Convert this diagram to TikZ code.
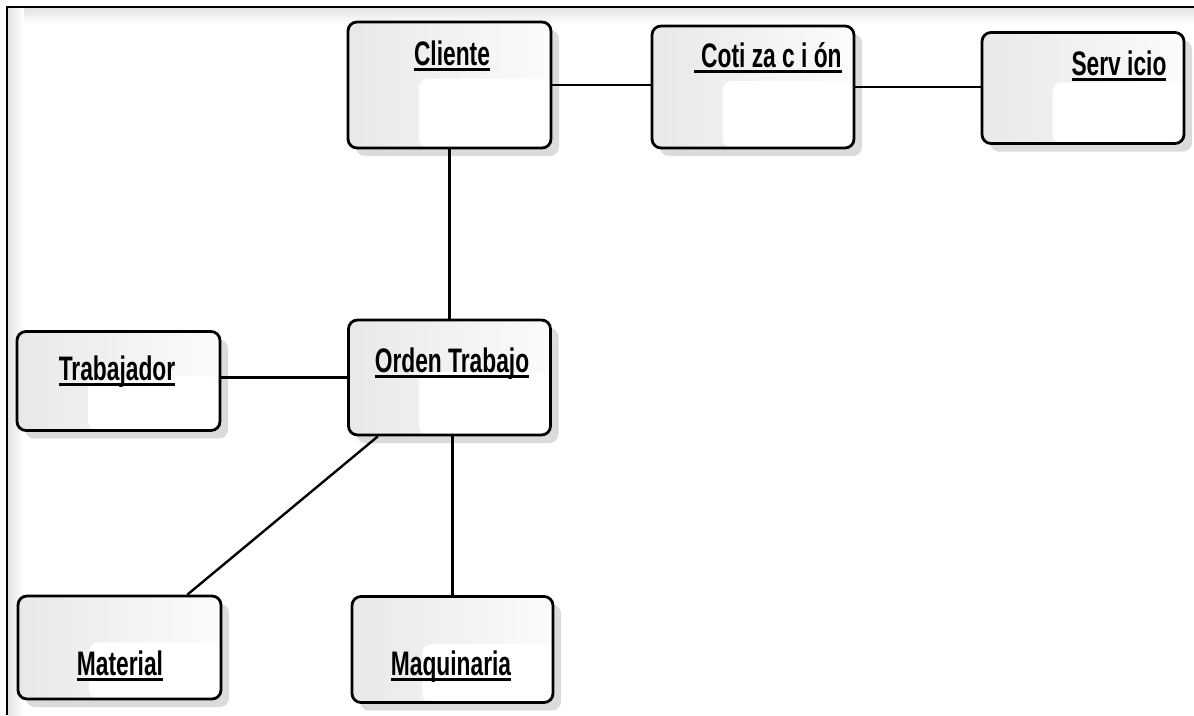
\documentclass[tikz,border=0pt]{standalone}
\usepackage{fontspec}
\setmainfont{Liberation Sans}
\usepackage{graphicx}
\usetikzlibrary{shadows,calc}
\newcommand\ulbox[1]{\setbox0=\hbox{#1}\leavevmode\rlap{\rule[-6pt]{\wd0}{3.5pt}}\box0}
\newcommand\lbl[1]{\scalebox{0.67}[1]{\fontsize{34}{34}\selectfont\bfseries\ulbox{#1}}}
\tikzset{
  ebox/.style={draw=black, line width=2.8pt, rounded corners=9pt,
    left color=gray!18, right color=gray!3,
    drop shadow={shadow xshift=8pt, shadow yshift=-8pt, fill=gray!50, opacity=0.55},
    path picture={
      \path (path picture bounding box.south west) coordinate (pa)
            (path picture bounding box.north east) coordinate (pb);
      \fill[white] ($(pa)!0.35!(pa -| pb)$) rectangle ($(pb)!0.45!(pb |- pa)$);
    }},
  lab/.style={anchor=base, inner sep=0pt},
  conn/.style={draw=black, line width=2.4pt}
}
\begin{document}
\begin{tikzpicture}[x=1pt,y=-1pt]
\useasboundingbox (0,0) rectangle (1194,715);
\fill[white] (0,0) rectangle (1194,715);
% outer frame with soft inner shadow
\shade[top color=gray!22, bottom color=white] (8,8) rectangle (1194,24);
\shade[left color=gray!22, right color=white] (8,8) rectangle (24,715);
\draw[line width=1.8pt] (7,715) -- (7,7) -- (1194,7);

% boxes
\node[ebox, minimum width=203pt, minimum height=126pt] (cli) at (449.5,85) {};
\node[ebox, minimum width=202pt, minimum height=122pt] (cot) at (753,87) {};
\node[ebox, minimum width=202pt, minimum height=111pt] (ser) at (1083,88) {};
\node[ebox, minimum width=203pt, minimum height=99pt] (tra) at (118.5,381) {};
\node[ebox, minimum width=202pt, minimum height=115pt] (ord) at (449.5,377.5) {};
\node[ebox, minimum width=203pt, minimum height=103pt] (mat) at (119.5,647.5) {};
\node[ebox, minimum width=201pt, minimum height=106pt] (maq) at (452.5,649.5) {};

% labels
\node[lab] (clil) at (452,65) {\lbl{Cliente}};
\node[lab] (cotl) at (768,67) {\lbl{\hspace*{0.3em}Coti za c i ón}};
\node[lab] (serl) at (1119,75) {\lbl{Serv icio}};
\node[lab] (tral) at (117,380) {\lbl{Trabajador}};
\node[lab] (ordl) at (452,372) {\lbl{Orden Trabajo}};
\node[lab] (matl) at (120,675) {\lbl{Material}};
\node[lab] (maql) at (451,675) {\lbl{Maquinaria}};

% connectors
\draw[conn] (cli.east) -- (cli.east -| cot.west);
\draw[conn] (cot.east) -- (cot.east -| ser.west);
\draw[conn] (cli.south) -- (ord.north);
\draw[conn] (ord.west -| tra.east) -- (ord.west);
\draw[conn] (ord.south -| maq.north) -- (maq.north);
\draw[conn] ($(ord.south west)!0.15!(ord.south east)$) -- ($(mat.north west)!0.83!(mat.north east)$);
\end{tikzpicture}
\end{document}
